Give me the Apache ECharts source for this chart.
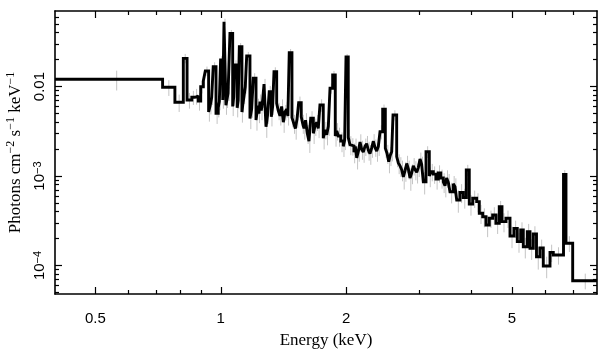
<!DOCTYPE html>
<html>
<head>
<meta charset="utf-8">
<script src="https://cdn.jsdelivr.net/npm/echarts@6/dist/echarts.min.js"></script>
<style>html,body{margin:0;padding:0;background:#fff}#c{width:609px;height:357px}</style>
</head>
<body>
<div id="c"></div>
<script>
// Lower bin edges (keV); the last entry is the upper edge of the last bin
const binEdges = [0.4,0.725,0.776,0.813,0.830,0.852,0.867,0.883,0.895,0.908,
0.918,0.935,0.943,0.951,0.959,0.974,0.986,0.992,0.999,1.011,
1.018,1.029,1.035,1.041,1.052,1.068,1.074,1.080,1.095,1.101,
1.108,1.124,1.130,1.137,1.145,1.154,1.175,1.186,1.197,1.215,
1.228,1.235,1.242,1.251,1.261,1.270,1.284,1.295,1.307,1.322,
1.332,1.342,1.362,1.374,1.387,1.400,1.413,1.426,1.439,1.449,
1.460,1.482,1.496,1.510,1.524,1.538,1.560,1.572,1.584,1.598,
1.613,1.628,1.644,1.668,1.683,1.699,1.714,1.730,1.762,1.779,
1.796,1.812,1.829,1.856,1.883,1.899,1.915,1.941,1.968,1.983,
1.998,2.023,2.042,2.062,2.088,2.104,2.120,2.140,2.159,2.178,
2.198,2.219,2.240,2.260,2.281,2.302,2.323,2.345,2.367,2.389,
2.411,2.447,2.483,2.506,2.530,2.551,2.572,2.591,2.644,2.668,
2.693,2.718,2.743,2.769,2.795,2.820,2.846,2.872,2.898,2.926,
2.954,2.981,3.008,3.035,3.063,3.109,3.166,3.200,3.237,3.285,
3.327,3.374,3.421,3.453,3.485,3.517,3.550,3.615,3.650,3.684,
3.751,3.820,3.884,3.949,4.024,4.114,4.174,4.253,4.331,4.411,
4.494,4.577,4.661,4.732,4.837,4.946,5.056,5.149,5.247,5.323,
5.442,5.524,5.626,5.726,5.838,5.945,6.170,6.283,6.648,6.740,
6.994,8.0];

// Flux per bin (photons cm^-2 s^-1 keV^-1)
const flux = [0.01206,0.00982,0.00667,0.0207,0.00708,0.00759,0.00785,0.00690,0.00997,0.01155,
0.01494,0.00520,0.00610,0.00759,0.01669,0.00503,0.00580,0.00680,0.01982,0.00708,
0.0531,0.00620,0.00720,0.00841,0.0394,0.00600,0.00760,0.01743,0.00580,0.00700,
0.0279,0.00520,0.00640,0.00780,0.00990,0.0220,0.00440,0.00560,0.01238,0.00423,
0.00610,0.00500,0.00680,0.00540,0.00720,0.01069,0.00356,0.00480,0.00877,0.00460,
0.00600,0.01467,0.00650,0.00540,0.00470,0.00600,0.00400,0.00520,0.00560,0.00470,
0.0239,0.00450,0.00390,0.00340,0.00430,0.00661,0.00460,0.00390,0.00340,0.00420,
0.00300,0.00245,0.00442,0.00300,0.00360,0.00400,0.00340,0.00622,0.00264,0.00330,
0.00290,0.00360,0.00957,0.01348,0.00280,0.00320,0.00280,0.00246,0.00215,0.00250,
0.0214,0.00270,0.00225,0.00217,0.00185,0.00215,0.00160,0.00190,0.00240,0.00200,
0.00185,0.00215,0.00230,0.00195,0.00178,0.00205,0.00245,0.00210,0.00190,0.00215,
0.00313,0.00557,0.00205,0.00180,0.00145,0.00170,0.00187,0.00481,0.00165,0.00140,
0.00130,0.00118,0.00098,0.00115,0.00138,0.00120,0.00095,0.00108,0.00130,0.00118,
0.00110,0.00125,0.00155,0.00135,0.000864,0.00187,0.00100,0.00112,0.00105,0.000927,
0.00108,0.000951,0.00086,0.00078,0.00095,0.00085,0.000668,0.00082,0.00076,0.000540,
0.000655,0.000576,0.00117,0.000487,0.000564,0.000517,0.000383,0.000351,0.000284,0.000337,
0.000367,0.000296,0.000454,0.000309,0.000337,0.000214,0.000260,0.000185,0.000249,0.000162,
0.000239,0.000156,0.000225,0.000125,0.000157,0.0000987,0.000140,0.000131,0.00104,0.000177,
0.0000676];

// Fractional 1-sigma error per bin
const errFrac = [0.25,0.2,0.22,0.12,0.2,0.18,0.2,0.22,0.16,0.14,
0.12,0.22,0.2,0.18,0.12,0.24,0.22,0.2,0.1,0.2,
0.08,0.22,0.2,0.18,0.09,0.22,0.2,0.13,0.22,0.2,
0.1,0.24,0.2,0.18,0.16,0.11,0.24,0.2,0.14,0.24,
0.2,0.22,0.2,0.22,0.2,0.14,0.25,0.2,0.16,0.22,
0.2,0.12,0.2,0.22,0.22,0.2,0.24,0.2,0.2,0.22,
0.1,0.22,0.24,0.25,0.2,0.17,0.22,0.24,0.25,0.2,
0.24,0.26,0.2,0.24,0.22,0.2,0.22,0.16,0.25,0.22,
0.24,0.22,0.13,0.11,0.24,0.22,0.24,0.25,0.24,0.22,
0.08,0.22,0.24,0.22,0.25,0.22,0.26,0.24,0.22,0.24,
0.24,0.22,0.22,0.24,0.25,0.22,0.2,0.22,0.24,0.22,
0.18,0.13,0.22,0.24,0.26,0.24,0.22,0.13,0.24,0.25,
0.25,0.26,0.28,0.25,0.22,0.24,0.28,0.25,0.22,0.24,
0.25,0.22,0.18,0.22,0.28,0.15,0.25,0.22,0.22,0.24,
0.22,0.24,0.25,0.26,0.22,0.24,0.26,0.22,0.24,0.28,
0.24,0.25,0.14,0.26,0.22,0.24,0.24,0.24,0.27,0.22,
0.22,0.24,0.16,0.24,0.22,0.27,0.22,0.25,0.22,0.26,
0.22,0.26,0.22,0.28,0.24,0.27,0.22,0.22,0.12,0.2,
0.2];

const xMajor = [0.5, 1, 2, 5];
const xMajorLabels = ['0.5', '1', '2', '5'];
const xMinor = [0.6, 0.7, 0.8, 0.9, 3, 4, 6, 7];
const yMajor = [1e-4, 1e-3, 1e-2];
const yMajorLabels = ['10{sup|−4}', '10{sup|−3}', '0.01'];
const yMinor = [5e-5, 6e-5, 7e-5, 8e-5, 9e-5,
  2e-4, 3e-4, 4e-4, 5e-4, 6e-4, 7e-4, 8e-4, 9e-4,
  2e-3, 3e-3, 4e-3, 5e-3, 6e-3, 7e-3, 8e-3, 9e-3,
  0.02, 0.03, 0.04, 0.05, 0.06];
const xTitle = 'Energy (keV)';
const yTitle = '{b|Photons cm}{sup|−2}{b| s}{sup|−1}{b| keV}{sup|−1}';

const X_MIN = 0.4, X_MAX = 8, Y_MIN = 4.8e-5, Y_MAX = 0.07;

const stepData = [];
for (let i = 0; i < flux.length; i++) stepData.push([binEdges[i], flux[i]]);
stepData.push([binEdges[flux.length], flux[flux.length - 1]]);

const errData = [];
for (let i = 0; i < flux.length; i++) {
  const c = (binEdges[i] + binEdges[i + 1]) / 2;
  errData.push([c, flux[i] * (1 - errFrac[i]), flux[i] * (1 + errFrac[i])]);
}

function labelFor(list, labels, v) {
  let best = 0, bd = Infinity;
  list.forEach((t, i) => { const d = Math.abs(Math.log10(t) - Math.log10(v)); if (d < bd) { bd = d; best = i; } });
  return labels[best];
}

const SANS = 'Liberation Sans, Arial, Helvetica, sans-serif';
const SERIF = 'Liberation Serif, Times New Roman, serif';
const lineCol = '#000';

function xAxis(pos, ticks, len, main) {
  const isLab = main && pos === 'bottom';
  return {
    type: 'log', logBase: 10, min: X_MIN, max: X_MAX, position: pos,
    axisLine: { show: main, lineStyle: { color: lineCol, width: 1.6 } },
    axisTick: { show: true, inside: true, length: len, customValues: ticks, lineStyle: { color: lineCol, width: 1.2 } },
    axisLabel: isLab ? {
      show: true, customValues: xMajor, margin: 17, color: '#000', fontFamily: SANS, fontSize: 15,
      formatter: v => labelFor(xMajor, xMajorLabels, v)
    } : { show: false },
    splitLine: { show: false }, minorTick: { show: false },
    name: isLab ? xTitle : '',
    nameLocation: 'middle', nameGap: 38,
    nameTextStyle: { color: '#000', fontFamily: SERIF, fontSize: 17 }
  };
}
function yAxis(pos, ticks, len, main) {
  const isLab = main && pos === 'left';
  return {
    type: 'log', logBase: 10, min: Y_MIN, max: Y_MAX, position: pos,
    axisLine: { show: main, lineStyle: { color: lineCol, width: 1.6 } },
    axisTick: { show: true, inside: true, length: len, customValues: ticks, lineStyle: { color: lineCol, width: 1.2 } },
    axisLabel: isLab ? {
      show: true, customValues: yMajor, rotate: 90, margin: 8, color: '#000', fontFamily: SANS, fontSize: 15,
      formatter: v => labelFor(yMajor, yMajorLabels, v),
      rich: {
        sup: { fontSize: 11, fontFamily: SANS, color: '#000', verticalAlign: 'top', lineHeight: 11 }
      }
    } : { show: false },
    splitLine: { show: false }, minorTick: { show: false },
    name: isLab ? yTitle : '',
    nameLocation: 'middle', nameGap: 28,
    nameTextStyle: {
      color: '#000', fontFamily: SERIF, fontSize: 17,
      rich: {
        b: { fontSize: 17, fontFamily: SERIF, color: '#000', lineHeight: 19, verticalAlign: 'bottom' },
        sup: { fontSize: 12, fontFamily: SERIF, color: '#000', lineHeight: 12, verticalAlign: 'top' }
      }
    }
  };
}

const chart = echarts.init(document.getElementById('c'), null, { renderer: 'canvas' });
chart.setOption({
  animation: false,
  backgroundColor: '#fff',
  grid: { left: 55, right: 12, top: 11, bottom: 63, containLabel: false, outerBoundsMode: 'none' },
  xAxis: [
    xAxis('bottom', xMajor, 7, true),
    xAxis('bottom', xMinor, 4, false),
    xAxis('top', xMajor, 7, true),
    xAxis('top', xMinor, 4, false)
  ],
  yAxis: [
    yAxis('left', yMajor, 7, true),
    yAxis('left', yMinor, 4, false),
    yAxis('right', yMajor, 7, true),
    yAxis('right', yMinor, 4, false)
  ],
  series: [
    {
      type: 'custom', xAxisIndex: 0, yAxisIndex: 0, clip: true, z: 1,
      data: errData,
      renderItem: function (params, api) {
        const p1 = api.coord([api.value(0), api.value(1)]);
        const p2 = api.coord([api.value(0), api.value(2)]);
        return { type: 'line', shape: { x1: p1[0], y1: p1[1], x2: p2[0], y2: p2[1] },
          style: { stroke: '#c4c4c4', lineWidth: 1 } };
      }
    },
    {
      type: 'line', xAxisIndex: 0, yAxisIndex: 0, step: 'end', data: stepData,
      showSymbol: false, symbol: 'none', clip: true, z: 2,
      lineStyle: { color: '#000', width: 2.9, join: 'miter', miterLimit: 1.6, cap: 'butt' }
    }
  ]
});
</script>
</body>
</html>
